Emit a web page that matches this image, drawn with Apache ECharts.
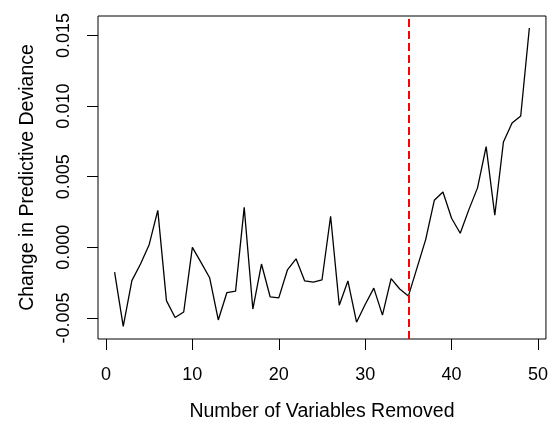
<!DOCTYPE html>
<html>
<head>
<meta charset="utf-8">
<script src="https://cdn.jsdelivr.net/npm/echarts@6/dist/echarts.min.js"></script>
<style>
html,body{margin:0;padding:0;background:#fff;}
#c{width:551px;height:427px;}
</style>
</head>
<body>
<div id="c"></div>
<script>
// Data
var varsRemoved = [1,2,3,4,5,6,7,8,9,10,11,12,13,14,15,16,17,18,19,20,21,22,23,24,25,26,27,28,29,30,31,32,33,34,35,36,37,38,39,40,41,42,43,44,45,46,47,48,49];
var devianceChange = [
  -0.00176, -0.00560, -0.00236, -0.00118, 0.00019, 0.00262, -0.00377, -0.00497, -0.00458, 0.00000,
  -0.00106, -0.00215, -0.00514, -0.00320, -0.00310, 0.00283, -0.00437, -0.00118, -0.00350, -0.00358,
  -0.00160, -0.00081, -0.00238, -0.00247, -0.00231, 0.00220, -0.00410, -0.00238, -0.00530, -0.00405,
  -0.00289, -0.00480, -0.00221, -0.00295, -0.00345, -0.00145, 0.00055, 0.00333, 0.00392, 0.00206,
  0.00100, 0.00267, 0.00421, 0.00713, 0.00227, 0.00746, 0.00880, 0.00930, 0.01553
];
var cutoff = [35];
var xTicks = [0, 10, 20, 30, 40, 50];
var yTicks = [-0.005, 0.000, 0.005, 0.010, 0.015];
var xTitle = 'Number of Variables Removed';
var yTitle = 'Change in Predictive Deviance';

var FONT = 'Liberation Sans, Arial, Helvetica, sans-serif';
var chart = echarts.init(document.getElementById('c'), null, {renderer: 'canvas'});
var pts = varsRemoved.map(function (x, i) { return [x, devianceChange[i]]; });

chart.setOption({
  animation: false,
  backgroundColor: '#ffffff',
  grid: {
    left: 98, right: 5, top: 16, bottom: 83,
    show: true, borderColor: '#000', borderWidth: 1, backgroundColor: 'transparent'
  },
  xAxis: {
    type: 'value',
    min: -0.92, max: 50.92,
    name: xTitle, nameLocation: 'middle', nameGap: 63,
    nameTextStyle: {fontFamily: FONT, fontSize: 19.5, color: '#000'},
    axisLine: {show: false, onZero: false},
    splitLine: {show: false},
    axisTick: {show: true, length: 11, lineStyle: {color: '#000', width: 1}, customValues: xTicks},
    axisLabel: {
      fontFamily: FONT, fontSize: 18, color: '#000', margin: 27,
      customValues: xTicks,
      formatter: function (v) { return String(v); }
    }
  },
  yAxis: {
    type: 'value',
    min: -0.00649, max: 0.01638,
    name: yTitle, nameLocation: 'middle', nameGap: 60, nameRotate: 90,
    nameTextStyle: {fontFamily: FONT, fontSize: 19.5, color: '#000'},
    axisLine: {show: false, onZero: false},
    splitLine: {show: false},
    axisTick: {show: true, length: 11, lineStyle: {color: '#000', width: 1}, customValues: yTicks},
    axisLabel: {
      fontFamily: FONT, fontSize: 18, color: '#000', margin: 25, rotate: 90,
      customValues: yTicks,
      formatter: function (v) { return v.toFixed(3); }
    }
  },
  series: [{
    type: 'line',
    data: pts,
    symbol: 'none',
    lineStyle: {color: '#000', width: 1.3},
    markLine: {
      silent: true,
      symbol: 'none',
      label: {show: false},
      lineStyle: {color: '#ff0000', width: 2, type: [8, 4]},
      data: cutoff.map(function (c) { return {xAxis: c}; })
    }
  }]
});
</script>
</body>
</html>
